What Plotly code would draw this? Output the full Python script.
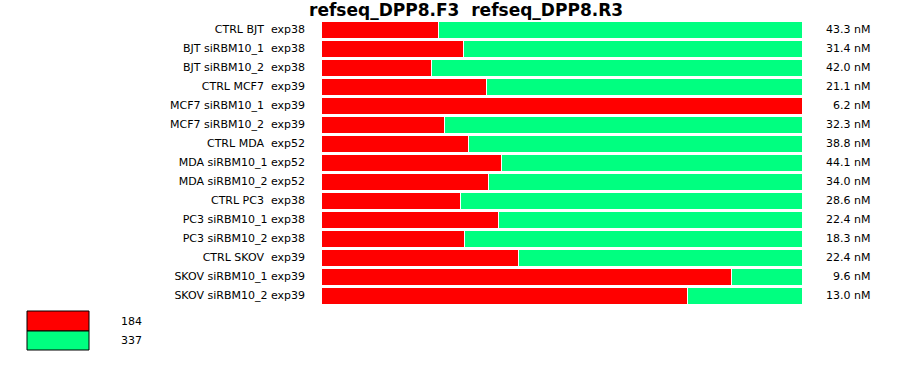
import plotly.graph_objects as go

title = "refseq_DPP8.F3  refseq_DPP8.R3"
samples = [
    "CTRL BJT  exp38", "BJT siRBM10_1  exp38", "BJT siRBM10_2  exp38",
    "CTRL MCF7  exp39", "MCF7 siRBM10_1  exp39", "MCF7 siRBM10_2  exp39",
    "CTRL MDA  exp52", "MDA siRBM10_1 exp52", "MDA siRBM10_2 exp52",
    "CTRL PC3  exp38", "PC3 siRBM10_1 exp38", "PC3 siRBM10_2 exp38",
    "CTRL SKOV  exp39", "SKOV siRBM10_1 exp39", "SKOV siRBM10_2 exp39",
]
red_pct = [24.5, 29.7, 22.9, 34.5, 100.0, 25.6, 30.6, 37.6, 34.9, 29.1, 36.8, 29.9, 41.0, 85.4, 76.1]
green_pct = [75.5, 70.3, 77.1, 65.5, 0.0, 74.4, 69.4, 62.4, 65.1, 70.9, 63.2, 70.1, 59.0, 14.6, 23.9]
conc_nM = [43.3, 31.4, 42.0, 21.1, 6.2, 32.3, 38.8, 44.1, 34.0, 28.6, 22.4, 18.3, 22.4, 9.6, 13.0]
legend_values = ["184", "337"]
colors = ["#FF0000", "#00FF80"]

labels = [s.replace("  ", " \u00a0") for s in samples]
FONT = "DejaVu Sans, Verdana, sans-serif"

W, H = 900, 375
L, R, T, B = 321, 900 - 802, 20, 375 - 305
pw, ph = W - L - R, H - T - B

def px_x(x):
    return (x - L) / pw

def px_y(y):
    return (H - B - y) / ph

fig = go.Figure()
for vals, col in zip([red_pct, green_pct], colors):
    fig.add_trace(go.Bar(
        y=labels, x=vals, orientation="h",
        marker=dict(color=col, line=dict(color="white", width=1)),
        hoverinfo="x+y", showlegend=False,
    ))

fig.update_layout(
    width=W, height=H, barmode="stack", bargap=2 / 19,
    margin=dict(l=L, r=R, t=T, b=B),
    plot_bgcolor="white", paper_bgcolor="white",
    font=dict(family=FONT, size=11, color="#000"),
    xaxis=dict(range=[0, 100], visible=False, fixedrange=True),
    yaxis=dict(autorange="reversed", showgrid=False, zeroline=False,
               showline=False, ticks="", ticklabelstandoff=15,
               tickfont=dict(family=FONT, size=11, color="#000")),
)

# Title
fig.add_annotation(text="<b>" + title + "</b>", xref="paper", yref="paper",
                   x=px_x(466), y=px_y(10), xanchor="center", yanchor="middle",
                   showarrow=False, font=dict(family=FONT, size=17, color="#000"))

# Right-side concentrations
for lab, c in zip(labels, conc_nM):
    fig.add_annotation(text=f"{c:.1f} nM", xref="paper", yref="y",
                       x=px_x(872), y=lab, xanchor="right", yanchor="middle",
                       showarrow=False, font=dict(family=FONT, size=11, color="#000"))

# Legend boxes
boxes = [(311, 331), (331, 350)]
for (y0, y1), col, val in zip(boxes, colors, legend_values):
    fig.add_shape(type="rect", xref="paper", yref="paper",
                  x0=px_x(27), x1=px_x(89), y0=px_y(y1), y1=px_y(y0),
                  fillcolor=col, line=dict(color="black", width=1))
    fig.add_annotation(text=val, xref="paper", yref="paper",
                       x=px_x(119), y=px_y((y0 + y1) / 2), xanchor="left",
                       yanchor="middle", showarrow=False,
                       font=dict(family=FONT, size=11, color="#000"))

fig.write_html("out.html", config={"displayModeBar": False},
               post_script="document.body.style.margin='0';document.body.style.overflow='hidden';")
